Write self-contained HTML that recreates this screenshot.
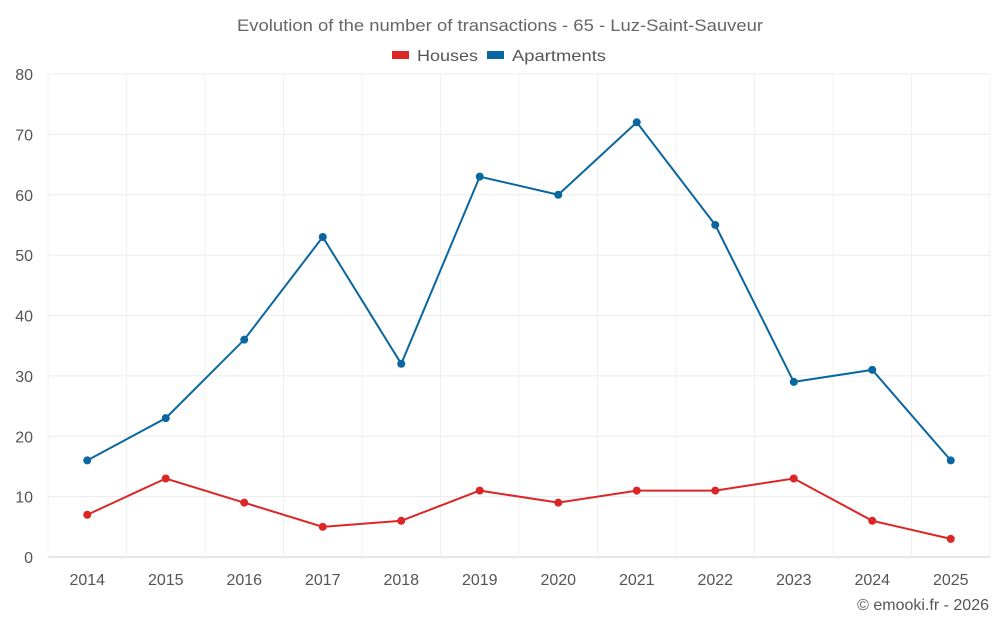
<!DOCTYPE html>
<html><head><meta charset="utf-8"><style>
body{margin:0;background:#fff;font-family:"Liberation Sans",sans-serif}
svg text{font-family:"Liberation Sans",sans-serif}
</style></head><body>
<svg id="c" width="1000" height="625">
<text x="237" y="31" textLength="526" lengthAdjust="spacingAndGlyphs" font-size="17" fill="#666">Evolution of the number of transactions - 65 - Luz-Saint-Sauveur</text>
<g>
<g><rect x="392" y="51" width="17" height="8" fill="#dc2626"/><text x="417" y="61" textLength="61" lengthAdjust="spacingAndGlyphs" font-size="16" fill="#555">Houses</text></g>
<g><rect x="487" y="51" width="17" height="8" fill="#0a66a0"/><text x="512" y="61" textLength="94" lengthAdjust="spacingAndGlyphs" font-size="16" fill="#555">Apartments</text></g>
</g>
<g id="grid"></g>
<g id="axes"></g>
<g id="series"></g>
<text x="989" y="610" text-anchor="end" font-size="16" fill="#555">© emooki.fr - 2026</text>
</svg>
<script>
const years=["2014","2015","2016","2017","2018","2019","2020","2021","2022","2023","2024","2025"];
const houses=[7,13,9,5,6,11,9,11,11,13,6,3];
const apartments=[16,23,36,53,32,63,60,72,55,29,31,16];
const yTicks=[0,10,20,30,40,50,60,70,80];
const L=48,R=990,T=74,B=557,yMax=80;
const bw=(R-L)/years.length;
const x=i=>L+bw*(i+0.5);
const y=v=>B-(v/yMax)*(B-T);
const NS="http://www.w3.org/2000/svg";
function mk(tag,attrs,parent){const e=document.createElementNS(NS,tag);for(const k in attrs)e.setAttribute(k,attrs[k]);parent.appendChild(e);return e;}
const grid=document.getElementById('grid'),axes=document.getElementById('axes'),ser=document.getElementById('series');
yTicks.forEach(t=>{
 const l=mk('line',{x1:L,x2:R,y1:y(t),y2:y(t),stroke:t===0?'#ccc':'#ebebeb','stroke-width':1},grid);
 
 
 const tx=mk('text',{x:L-15,y:y(t)+6,'text-anchor':'end','font-size':16,fill:'#555'},axes);
 tx.textContent=t;
 
 
});
for(let i=0;i<=years.length;i++){
 const l=mk('line',{x1:L+bw*i,x2:L+bw*i,y1:T,y2:B,stroke:'#f0f0f0','stroke-width':1},grid);
 
 
}
years.forEach((yr,i)=>{
 const tx=mk('text',{x:x(i),y:585,'text-anchor':'middle','font-size':16,fill:'#555'},axes);
 tx.textContent=yr;
 
 
});
function draw(data,color,name){
 const p=mk('polyline',{points:data.map((v,i)=>x(i)+','+y(v)).join(' '),fill:'none',stroke:color,'stroke-width':2},ser);
 
 
 data.forEach((v,i)=>{
  const c=mk('circle',{cx:x(i),cy:y(v),r:4,fill:color},ser);
  
  
 });
}
draw(apartments,'#0a66a0','apartments');
draw(houses,'#dc2626','houses');
</script>
</body></html>
